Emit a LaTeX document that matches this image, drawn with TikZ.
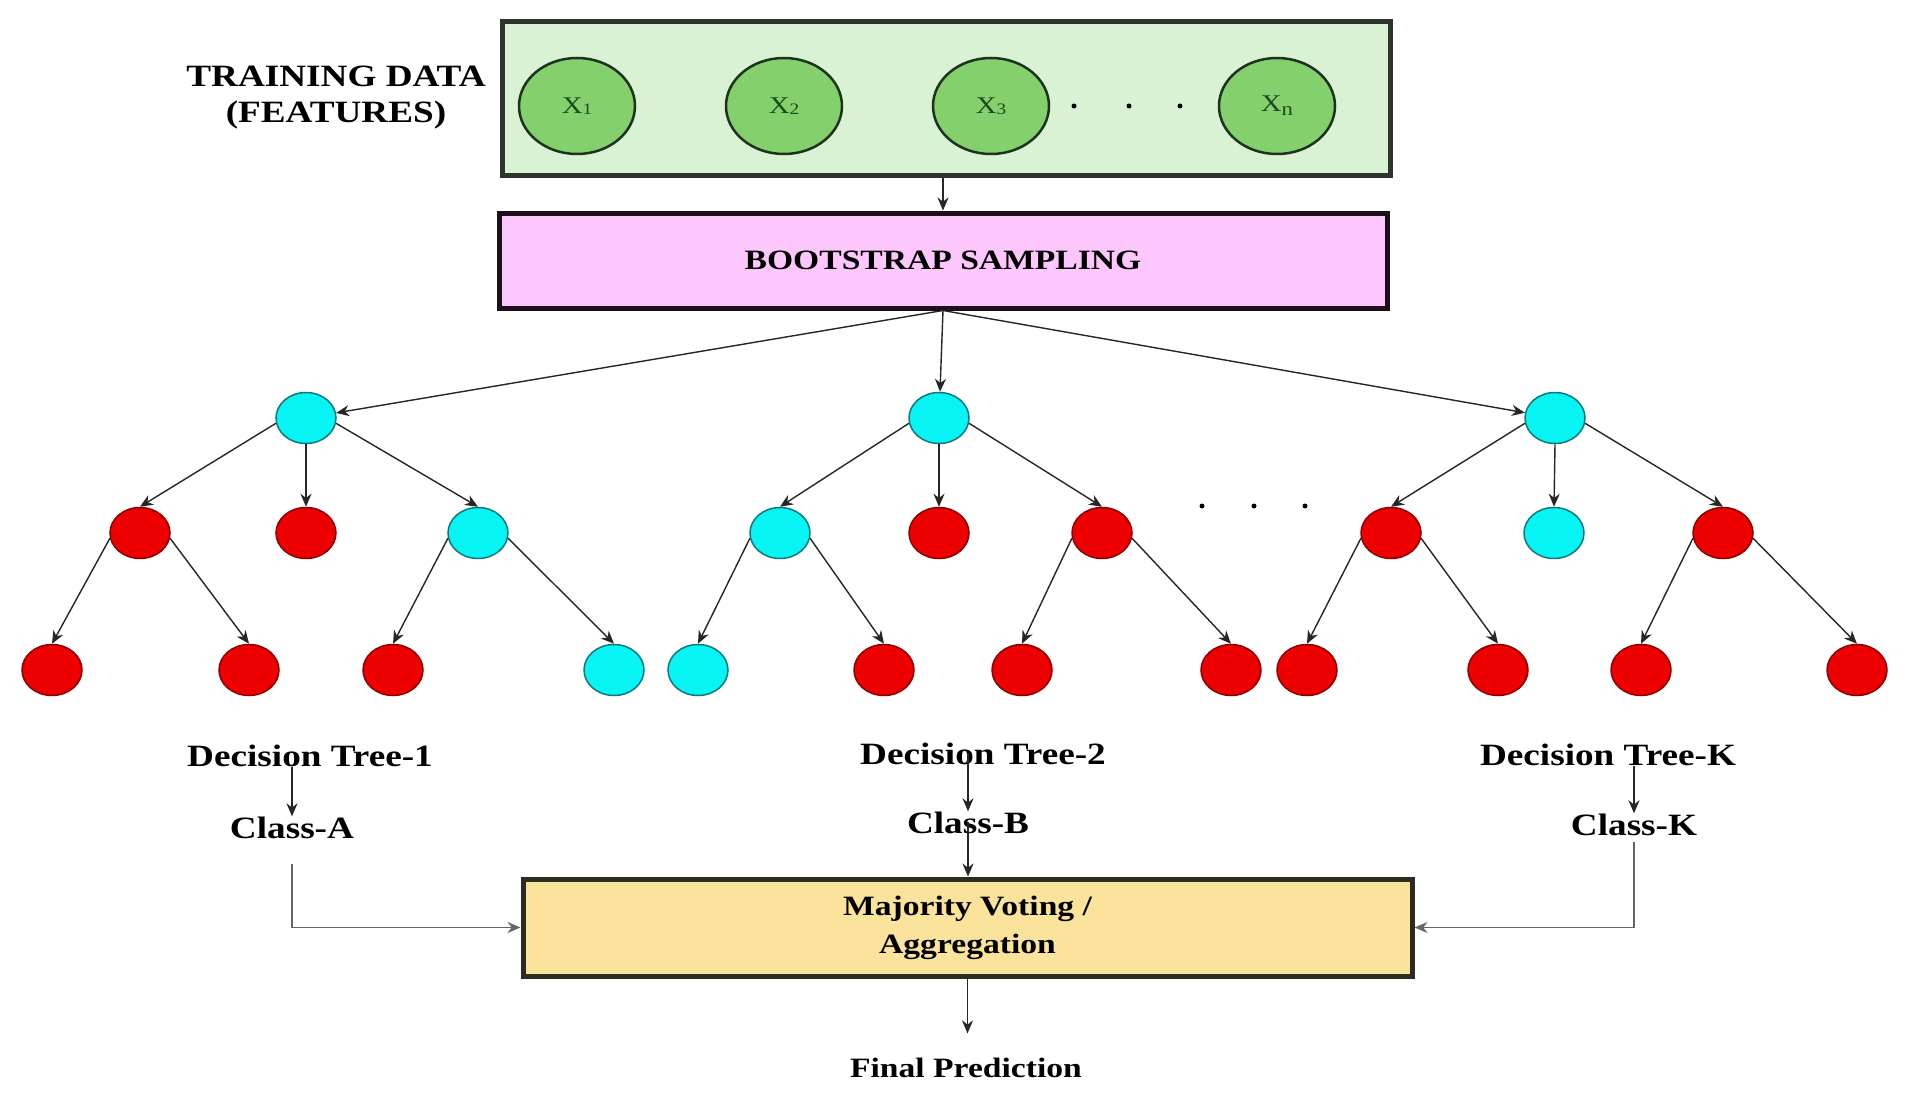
\documentclass[tikz,border=0pt]{standalone}
\usepackage{fontspec}
\setmainfont[FakeStretch=1.2]{Liberation Serif}
\usetikzlibrary{shapes.geometric,arrows.meta}
\definecolor{featfill}{HTML}{84D06C}
\definecolor{featborder}{HTML}{1E331E}
\definecolor{feattext}{HTML}{1B4A1B}
\definecolor{trainfill}{HTML}{D9F2D3}
\definecolor{trainborder}{HTML}{2D352D}
\definecolor{bootfill}{HTML}{FDC7FD}
\definecolor{bootborder}{HTML}{1A101A}
\definecolor{majfill}{HTML}{FBE39B}
\definecolor{majborder}{HTML}{2B2B20}
\definecolor{cynF}{HTML}{06F4F4}
\definecolor{cynB}{HTML}{107878}
\definecolor{redF}{HTML}{EE0000}
\definecolor{redB}{HTML}{8B0000}
\begin{document}
\begin{tikzpicture}[x=1pt,y=-1pt,
  conn/.style={draw=black!85, line width=1.4pt, -{Stealth[length=13pt,width=11pt]}},
  elbow/.style={draw=black!60, line width=1.8pt, -{Stealth[length=13pt,width=11pt]}},
  feat/.style={ellipse, draw=featborder, line width=2.5pt, fill=featfill,
    minimum width=116pt, minimum height=96pt, inner sep=0pt, text=feattext,
    font=\fontsize{24}{24}\selectfont},
  cyn/.style={ellipse, draw=cynB, fill=cynF, line width=1.5pt,
    minimum width=60pt, minimum height=51pt, inner sep=0pt},
  rd/.style={ellipse, draw=redB, fill=redF, line width=1.5pt,
    minimum width=60pt, minimum height=51pt, inner sep=0pt},
  bigbox/.style={rectangle, line width=5pt, inner sep=0pt,
    font=\bfseries\fontsize{28}{38}\selectfont, align=center},
  lbl/.style={font=\bfseries\fontsize{31}{31}\selectfont, inner sep=0pt, anchor=base},
  sml/.style={font=\bfseries\fontsize{28}{28}\selectfont, inner sep=0pt, anchor=base},
  dot/.style={circle, fill=black, inner sep=0pt, minimum size=5pt}
]
\useasboundingbox[fill=white] (0,0) rectangle (1907,1113);

% training data box
\node[bigbox, draw=trainborder, fill=trainfill, minimum width=888pt, minimum height=154pt] (train) at (946,99) {};
\node[lbl] (td1) at (336,87) {TRAINING DATA};
\node[lbl] (td2) at (336,123) {(FEATURES)};
\node[feat] (x1) at (577,106) {X{\fontsize{16}{16}\selectfont\raisebox{-1pt}{1}}};
\node[feat] (x2) at (784,106) {X{\fontsize{16}{16}\selectfont\raisebox{-1pt}{2}}};
\node[feat] (x3) at (991,106) {X{\fontsize{16}{16}\selectfont\raisebox{-1pt}{3}}};
\node[feat] (xn) at (1277,106) {X{\fontsize{19}{19}\selectfont\raisebox{-4pt}{n}}};
\node[dot] (d1) at (1074,106) {};
\node[dot] (d2) at (1129,106) {};
\node[dot] (d3) at (1180,106) {};

% bootstrap
\node[bigbox, draw=bootborder, fill=bootfill, minimum width=888pt, minimum height=95pt] (boot) at (943,260.5) {BOOTSTRAP SAMPLING};
\draw[conn] (boot.north |- train.south) -- (boot.north);

% tree 1
\node[cyn] (r1) at (306,418) {};
\node[rd] (a1) at (140,533) {};
\node[rd] (a2) at (306,533) {};
\node[cyn] (a3) at (478,533) {};
\node[rd] (a11) at (52,670) {};
\node[rd] (a12) at (249,670) {};
\node[rd] (a31) at (393,670) {};
\node[cyn] (a32) at (614,670) {};
% tree 2
\node[cyn] (r2) at (939,418) {};
\node[cyn] (b1) at (780,533) {};
\node[rd] (b2) at (939,533) {};
\node[rd] (b3) at (1102,533) {};
\node[cyn] (b11) at (698,670) {};
\node[rd] (b12) at (884,670) {};
\node[rd] (b31) at (1022,670) {};
\node[rd] (b32) at (1231,670) {};
% tree K
\node[cyn] (r3) at (1555,418) {};
\node[rd] (c1) at (1391,533) {};
\node[cyn] (c2) at (1554,533) {};
\node[rd] (c3) at (1723,533) {};
\node[rd] (c11) at (1307,670) {};
\node[rd] (c12) at (1498,670) {};
\node[rd] (c31) at (1641,670) {};
\node[rd] (c32) at (1857,670) {};
% dots between trees
\node[dot] (e1) at (1202,506) {};
\node[dot] (e2) at (1254,506) {};
\node[dot] (e3) at (1305,506) {};

\draw[conn] (boot.south) -- (r1);
\draw[conn] (boot.south) -- (r2);
\draw[conn] (boot.south) -- (r3);

\foreach \r/\p/\q/\s in {r1/a1/a2/a3, r2/b1/b2/b3, r3/c1/c2/c3}{
  \draw[conn] (\r.190) -- (\p.north);
  \draw[conn] (\r.south) -- (\q.north);
  \draw[conn] (\r.-10) -- (\s.north);
}
\foreach \p/\l/\rr in {a1/a11/a12, a3/a31/a32, b1/b11/b12, b3/b31/b32, c1/c11/c12, c3/c31/c32}{
  \draw[conn] (\p.190) -- (\l.north);
  \draw[conn] (\p.-10) -- (\rr.north);
}

% labels
\node[lbl] (dt1) at (310,766) {Decision Tree-1};
\node[lbl] (dt2) at (983,764) {Decision Tree-2};
\node[lbl] (dtk) at (1608,765) {Decision Tree-K};
\node[lbl] (ca) at (292,838) {Class-A};
\node[lbl] (cb) at (968,833) {Class-B};
\node[lbl] (ck) at (1634,835) {Class-K};

% majority box
\node[bigbox, draw=majborder, fill=majfill, minimum width=889pt, minimum height=97pt] (maj) at (967.5,927.5) {Majority Voting /\\Aggregation};
\node[sml] (fp) at (966,1077) {Final Prediction};

\draw[conn] (dt1.south -| ca.north) -- (ca.north);
\draw[conn] (cb.north |- dt2.center) -- (cb.north);
\draw[conn] (cb.center) -- (cb.center |- maj.north);
\draw[conn] (dtk.south -| ck.north) -- (ck.north);
\draw[elbow] ([yshift=-25pt]ca.south) -- (ca.south |- maj.west) -- (maj.west);
\draw[elbow] ([yshift=-6pt]ck.south) -- (ck.south |- maj.east) -- (maj.east);
\draw[conn, shorten >=24pt] (maj.south) -- (maj.south |- fp.north);
\end{tikzpicture}
\end{document}
